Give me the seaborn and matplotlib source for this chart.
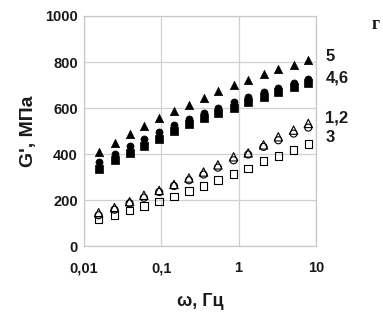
import matplotlib
matplotlib.use("Agg")
import matplotlib.pyplot as plt
import matplotlib.transforms as mtransforms
import seaborn as sns
import pandas as pd

freq = [0.0155, 0.0249, 0.039, 0.0597, 0.094, 0.146, 0.228, 0.352, 0.54, 0.861,
        1.33, 2.10, 3.26, 5.14, 7.96]
g1 = [145, 167, 193, 221, 242, 268, 296, 322, 353, 388, 405, 440, 475, 504, 533]
g2 = [134, 158, 186, 210, 235, 261, 286, 311, 341, 373, 398, 431, 460, 489, 515]
g3 = [116, 136, 154, 174, 194, 216, 239, 261, 287, 313, 338, 369, 392, 418, 443]
g4 = [367, 402, 435, 467, 496, 525, 554, 579, 602, 625, 649, 670, 688, 707, 724]
g5 = [409, 448, 486, 521, 556, 586, 614, 644, 675, 698, 720, 747, 768, 788, 807]
g6 = [337, 372, 406, 437, 467, 498, 530, 557, 580, 602, 628, 649, 668, 690, 707]

curve_labels = ["5", "4,6", "1,2", "3"]
curve_label_y = [822, 730, 557, 474]
xticks = [0.01, 0.1, 1, 10]
xticklabels = ["0,01", "0,1", "1", "10"]
yticks = [0, 200, 400, 600, 800, 1000]

sns.set_theme(style="white")
plt.rcParams["font.family"] = ["Liberation Sans", "DejaVu Sans"]
plt.rcParams["font.weight"] = "bold"

fig = plt.figure(figsize=(3.83, 3.33), dpi=100)
ax = fig.add_axes([0.219, 0.261, 0.606, 0.691])

series = [
    (g1, "^", "none"),
    (g2, "o", "none"),
    (g3, "s", "none"),
    (g4, "o", "black"),
    (g6, "s", "black"),
    (g5, "^", "black"),
]
sizes = {"^": 36, "o": 26, "s": 30}
for vals, m, fc in series:
    df = pd.DataFrame({"f": freq, "g": vals})
    if fc == "none":
        sns.scatterplot(data=df, x="f", y="g", marker=m, s=sizes[m],
                        facecolors="none", edgecolor="black", linewidth=0.8,
                        ax=ax, legend=False)
    else:
        sns.scatterplot(data=df, x="f", y="g", marker=m, s=sizes[m],
                        color="black", edgecolor="black", linewidth=0.5,
                        ax=ax, legend=False)

ax.set_xscale("log")
ax.set_xlim(0.01, 10)
ax.set_ylim(0, 1000)
ax.set_xticks(xticks)
ax.set_xticklabels(xticklabels)
ax.minorticks_off()
ax.set_yticks(yticks)
ax.grid(True, color="#d0d0d0", linewidth=0.9)
ax.set_axisbelow(True)
for sp in ax.spines.values():
    sp.set_color("#c8c8c8")
    sp.set_linewidth(0.9)
ax.tick_params(axis="both", labelsize=10.5, length=0, colors="#1a1a1a")
ax.tick_params(axis="x", pad=11)
ax.tick_params(axis="y", pad=4.5)
for lab in ax.get_xticklabels() + ax.get_yticklabels():
    lab.set_fontweight("bold")

ax.set_xlabel("ω, Гц", fontsize=13, fontweight="bold", labelpad=13, color="#1a1a1a")
ax.set_ylabel("G', МПа", fontsize=14, fontweight="bold", labelpad=6, color="#1a1a1a")

trans = mtransforms.blended_transform_factory(ax.transAxes, ax.transData)
for lab, yv in zip(curve_labels, curve_label_y):
    ax.text(1.04, yv, lab, transform=trans, fontsize=12, fontweight="bold",
            ha="left", va="center", color="#1a1a1a")

fig.text(0.97, 0.925, "г", fontsize=13, fontweight="bold",
         family=["Liberation Serif", "DejaVu Serif"], ha="left", va="center", color="#1a1a1a")

fig.savefig("out.png", dpi=100)
